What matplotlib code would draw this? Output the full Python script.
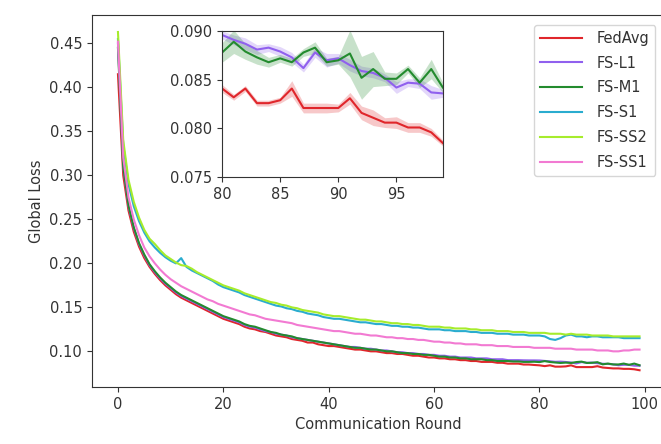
import numpy as np
import matplotlib
matplotlib.use("Agg")
import matplotlib.pyplot as plt
from matplotlib.ticker import FormatStrFormatter

plt.rcParams['font.size'] = 10.5
plt.rcParams['text.color'] = '#333333'
plt.rcParams['axes.labelcolor'] = '#333333'
plt.rcParams['xtick.color'] = '#333333'
plt.rcParams['ytick.color'] = '#333333'
plt.rcParams['axes.edgecolor'] = '#333333'

rounds = np.arange(100)
labels = ["FedAvg", "FS-L1", "FS-M1", "FS-S1", "FS-SS2", "FS-SS1"]
colors = ["#e0262b", "#9060ee", "#238b2e", "#2aaccf", "#a6ec2c", "#f27ad2"]

fedavg = [0.415, 0.300, 0.260, 0.236, 0.219, 0.206, 0.196, 0.188, 0.181, 0.175,
          0.170, 0.165, 0.161, 0.158, 0.155, 0.152, 0.149, 0.146, 0.143, 0.140,
          0.137, 0.135, 0.133, 0.131, 0.128, 0.126, 0.125, 0.123, 0.122, 0.120,
          0.118, 0.117, 0.116, 0.114, 0.113, 0.112, 0.110, 0.110, 0.108, 0.107,
          0.106, 0.106, 0.105, 0.104, 0.103, 0.102, 0.102, 0.101, 0.100, 0.100,
          0.099, 0.098, 0.098, 0.097, 0.097, 0.096, 0.095, 0.095, 0.094, 0.093,
          0.093, 0.092, 0.092, 0.091, 0.091, 0.090, 0.090, 0.089, 0.089, 0.088,
          0.088, 0.088, 0.087, 0.087, 0.086, 0.086, 0.086, 0.085, 0.085, 0.0845,
          0.0841, 0.0832, 0.0841, 0.0826, 0.0826, 0.0829, 0.0841, 0.0821, 0.0821, 0.0821,
          0.0821, 0.0831, 0.0816, 0.0811, 0.0806, 0.0806, 0.0801, 0.0801, 0.0796, 0.0785]
fs_l1 = [0.450, 0.310, 0.265, 0.240, 0.222, 0.209, 0.198, 0.190, 0.183, 0.177,
         0.172, 0.167, 0.163, 0.160, 0.157, 0.154, 0.151, 0.148, 0.145, 0.142,
         0.139, 0.137, 0.135, 0.133, 0.130, 0.128, 0.127, 0.125, 0.123, 0.122,
         0.120, 0.119, 0.118, 0.116, 0.115, 0.114, 0.113, 0.112, 0.111, 0.110,
         0.109, 0.108, 0.107, 0.106, 0.105, 0.105, 0.104, 0.103, 0.103, 0.102,
         0.101, 0.101, 0.100, 0.099, 0.099, 0.098, 0.098, 0.097, 0.097, 0.096,
         0.096, 0.095, 0.095, 0.094, 0.094, 0.093, 0.093, 0.093, 0.092, 0.092,
         0.092, 0.091, 0.091, 0.091, 0.090, 0.090, 0.090, 0.0898, 0.0897, 0.0897,
         0.0896, 0.0891, 0.0887, 0.0881, 0.0883, 0.0879, 0.0873, 0.0862, 0.0878, 0.0870,
         0.0872, 0.0865, 0.0859, 0.0857, 0.0852, 0.0842, 0.0847, 0.0846, 0.0837, 0.0836]
fs_m1 = [0.445, 0.310, 0.266, 0.241, 0.223, 0.210, 0.199, 0.191, 0.184, 0.178,
         0.173, 0.168, 0.164, 0.161, 0.158, 0.155, 0.152, 0.149, 0.146, 0.143,
         0.140, 0.138, 0.136, 0.134, 0.131, 0.129, 0.128, 0.126, 0.124, 0.122,
         0.121, 0.119, 0.118, 0.117, 0.115, 0.114, 0.113, 0.112, 0.111, 0.110,
         0.109, 0.108, 0.107, 0.106, 0.105, 0.104, 0.104, 0.103, 0.102, 0.102,
         0.101, 0.100, 0.100, 0.099, 0.098, 0.098, 0.097, 0.097, 0.096, 0.096,
         0.095, 0.094, 0.094, 0.093, 0.093, 0.092, 0.092, 0.091, 0.091, 0.091,
         0.090, 0.090, 0.089, 0.089, 0.089, 0.0885, 0.0885, 0.088, 0.088, 0.0882,
         0.0878, 0.0889, 0.0879, 0.0873, 0.0868, 0.0872, 0.0868, 0.0878, 0.0883, 0.0868,
         0.0870, 0.0877, 0.0852, 0.0861, 0.0851, 0.0851, 0.0861, 0.0847, 0.0861, 0.0842]
fs_s1 = [0.455, 0.335, 0.290, 0.265, 0.248, 0.235, 0.225, 0.218, 0.212, 0.207,
         0.203, 0.200, 0.206, 0.196, 0.192, 0.189, 0.186, 0.183, 0.180, 0.176,
         0.173, 0.171, 0.169, 0.167, 0.164, 0.162, 0.160, 0.158, 0.156, 0.154,
         0.152, 0.151, 0.149, 0.148, 0.146, 0.145, 0.143, 0.142, 0.141, 0.139,
         0.138, 0.137, 0.137, 0.136, 0.135, 0.134, 0.133, 0.133, 0.132, 0.131,
         0.131, 0.130, 0.129, 0.129, 0.128, 0.128, 0.127, 0.127, 0.126, 0.125,
         0.125, 0.125, 0.124, 0.124, 0.123, 0.123, 0.123, 0.122, 0.122, 0.121,
         0.121, 0.121, 0.120, 0.120, 0.120, 0.119, 0.119, 0.119, 0.118, 0.118,
         0.118, 0.117, 0.114, 0.113, 0.115, 0.118, 0.119, 0.117, 0.117, 0.116,
         0.117, 0.117, 0.116, 0.116, 0.116, 0.116, 0.115, 0.115, 0.115, 0.115]
fs_ss2 = [0.463, 0.340, 0.295, 0.270, 0.252, 0.238, 0.228, 0.222, 0.215, 0.209,
          0.205, 0.201, 0.198, 0.197, 0.194, 0.190, 0.187, 0.184, 0.181, 0.178,
          0.175, 0.173, 0.171, 0.169, 0.166, 0.164, 0.162, 0.160, 0.158, 0.156,
          0.155, 0.153, 0.152, 0.150, 0.149, 0.147, 0.146, 0.145, 0.144, 0.142,
          0.141, 0.140, 0.140, 0.139, 0.138, 0.137, 0.136, 0.136, 0.135, 0.134,
          0.134, 0.133, 0.132, 0.132, 0.131, 0.131, 0.130, 0.130, 0.129, 0.128,
          0.128, 0.128, 0.127, 0.127, 0.126, 0.126, 0.126, 0.125, 0.125, 0.124,
          0.124, 0.124, 0.123, 0.123, 0.123, 0.122, 0.122, 0.122, 0.121, 0.121,
          0.121, 0.121, 0.120, 0.120, 0.120, 0.119, 0.120, 0.119, 0.119, 0.119,
          0.118, 0.118, 0.118, 0.118, 0.117, 0.117, 0.117, 0.117, 0.117, 0.117]
fs_ss1 = [0.452, 0.320, 0.275, 0.250, 0.232, 0.218, 0.208, 0.200, 0.193, 0.187,
          0.182, 0.178, 0.174, 0.171, 0.168, 0.165, 0.162, 0.159, 0.157, 0.154,
          0.152, 0.150, 0.148, 0.146, 0.144, 0.142, 0.141, 0.139, 0.137, 0.136,
          0.135, 0.134, 0.133, 0.132, 0.130, 0.129, 0.128, 0.127, 0.126, 0.125,
          0.124, 0.123, 0.123, 0.122, 0.121, 0.120, 0.120, 0.119, 0.118, 0.118,
          0.117, 0.116, 0.116, 0.115, 0.115, 0.114, 0.114, 0.113, 0.113, 0.112,
          0.111, 0.111, 0.110, 0.110, 0.109, 0.109, 0.108, 0.108, 0.108, 0.107,
          0.107, 0.107, 0.106, 0.106, 0.106, 0.105, 0.105, 0.105, 0.105, 0.104,
          0.104, 0.104, 0.104, 0.103, 0.103, 0.103, 0.103, 0.102, 0.102, 0.102,
          0.102, 0.101, 0.101, 0.101, 0.100, 0.100, 0.101, 0.101, 0.102, 0.102]

# spread of the runs (half width of the shaded band), rounds 80-99
zoom_rounds = np.arange(80, 100)
fedavg_sd = [0.0004, 0.0003, 0.0003, 0.0003, 0.0003, 0.0003, 0.0008, 0.0005, 0.0005, 0.0005,
             0.0004, 0.0006, 0.0007, 0.0008, 0.0005, 0.0006, 0.0005, 0.0005, 0.0004, 0.0003]
fs_l1_sd = [0.0004, 0.0005, 0.0006, 0.0005, 0.0004, 0.0005, 0.0005, 0.0004, 0.0005, 0.0007,
            0.0005, 0.0006, 0.0005, 0.0005, 0.0004, 0.0006, 0.0004, 0.0005, 0.0007, 0.0004]
fs_m1_sd = [0.0010, 0.0012, 0.0008, 0.0007, 0.0005, 0.0004, 0.0004, 0.0004, 0.0006, 0.0004,
            0.0004, 0.0024, 0.0022, 0.0018, 0.0007, 0.0006, 0.0004, 0.0005, 0.0010, 0.0005]

series = [fedavg, fs_l1, fs_m1, fs_s1, fs_ss2, fs_ss1]
spreads = {0: fedavg_sd, 1: fs_l1_sd, 2: fs_m1_sd}

fig = plt.figure(figsize=(6.61, 4.44), dpi=100)
ax = fig.add_axes([0.139, 0.128, 0.868, 0.838])
for i, s in enumerate(series):
    ax.plot(rounds, s, color=colors[i], lw=1.5, label=labels[i])
ax.set_xlabel("Communication Round")
ax.set_ylabel("Global Loss")
ax.set_xticks([0, 20, 40, 60, 80, 100])
ax.set_yticks([0.10, 0.15, 0.20, 0.25, 0.30, 0.35, 0.40, 0.45])
ax.yaxis.set_major_formatter(FormatStrFormatter('%.2f'))
ax.legend(loc="upper right", handlelength=2.9, handletextpad=1.0, labelspacing=0.67,
          bbox_to_anchor=(0.995, 0.993))

# zoomed inset on the last rounds
axin = fig.add_axes([0.336, 0.601, 0.334, 0.329])
for i, s in enumerate(series):
    axin.plot(rounds, s, color=colors[i], lw=1.5)
    if i in spreads:
        mid = np.array(s[80:])
        sd = np.array(spreads[i])
        axin.fill_between(zoom_rounds, mid - sd, mid + sd, color=colors[i], alpha=0.25, lw=0)
axin.set_xlim(80, 99)
axin.set_ylim(0.075, 0.090)
axin.set_xticks([80, 85, 90, 95])
axin.set_yticks([0.075, 0.080, 0.085, 0.090])
axin.yaxis.set_major_formatter(FormatStrFormatter('%.3f'))

plt.savefig("out.png", dpi=100)
